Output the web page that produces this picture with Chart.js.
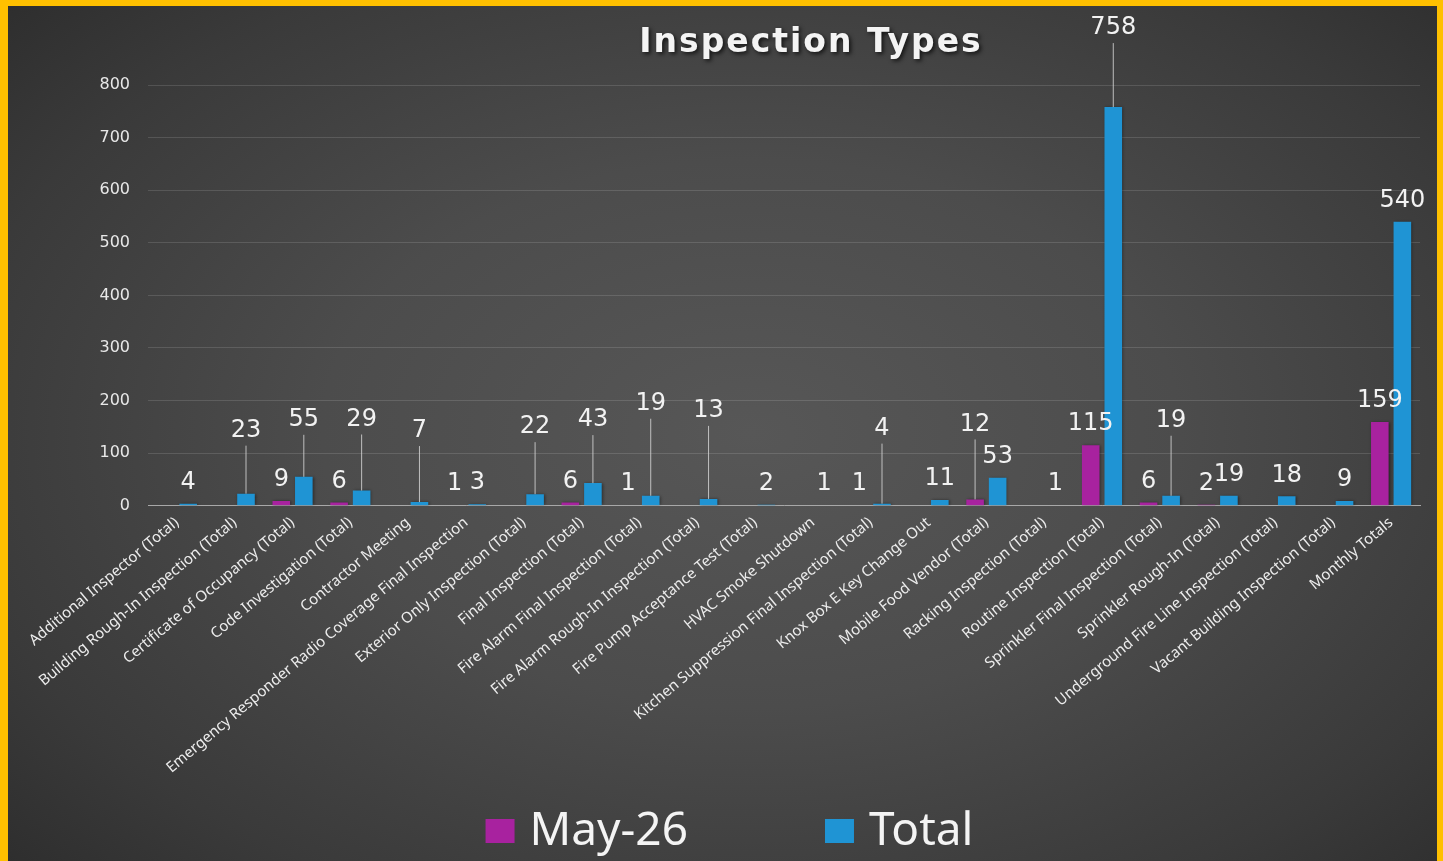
<!DOCTYPE html>
<html>
<head>
<meta charset="utf-8">
<script src="https://cdn.jsdelivr.net/npm/chart.js@4.4.1/dist/chart.umd.min.js"></script>
<style>
  html, body { margin:0; padding:0; background:#FFC000; width:1443px; height:861px; overflow:hidden; }
  #wrap { position:absolute; left:8px; top:6px; width:1429px; height:855px;
    background: radial-gradient(ellipse 75% 80% at 52% 50%, #575757 0%, #4c4c4c 40%, #3a3a3a 75%, #2a2a2a 100%); }
  canvas { display:block; }
</style>
</head>
<body>
<div id="wrap"><canvas id="c"></canvas></div>
<script>
const chartTitle = "Inspection Types";
const categories = [
  "Additional Inspector (Total)",
  "Building Rough-In Inspection (Total)",
  "Certificate of Occupancy (Total)",
  "Code Investigation (Total)",
  "Contractor Meeting",
  "Emergency Responder Radio Coverage Final Inspection",
  "Exterior Only Inspection (Total)",
  "Final Inspection (Total)",
  "Fire Alarm Final Inspection (Total)",
  "Fire Alarm Rough-In Inspection (Total)",
  "Fire Pump Acceptance Test (Total)",
  "HVAC Smoke Shutdown",
  "Kitchen Suppression Final Inspection (Total)",
  "Knox Box E Key Change Out",
  "Mobile Food Vendor (Total)",
  "Racking Inspection (Total)",
  "Routine Inspection (Total)",
  "Sprinkler Final Inspection (Total)",
  "Sprinkler Rough-In (Total)",
  "Underground Fire Line Inspection (Total)",
  "Vacant Building Inspection (Total)",
  "Monthly Totals"
];
const seriesNames = ["May-26", "Total"];
const may26 = [null, null, 9, 6, null, 1, null, 6, 1, null, null, null, 1, null, 12, null, 115, 6, 2, null, null, 159];
const total = [4, 23, 55, 29, 7, 3, 22, 43, 19, 13, 2, 1, 4, 11, 53, 1, 758, 19, 19, 18, 9, 540];
const yTicks = [0, 100, 200, 300, 400, 500, 600, 700, 800];

// label callout lifts (px above bar top) where a leader line is drawn
const mayLabelLift   = [null,null,null,null,null,null,null,null,null,null,null,null,null,null,75,null,null,null,null,null,null,null];
const totalLabelLift = [null,63,57,71,71,null,67,63,92,88,null,null,75,null,null,null,79,75,null,null,null,null];

const colors = ["#A8229F", "#1F94D4"];

const titlePlugin = {
  id: 'customTitle',
  afterDraw(chart) {
    const ctx = chart.ctx, a = chart.chartArea;
    ctx.save();
    ctx.font = 'bold 33px "DejaVu Sans"';
    try { ctx.letterSpacing = '2px'; } catch(e) {}
    ctx.textAlign = 'center';
    ctx.textBaseline = 'middle';
    ctx.shadowColor = 'rgba(0,0,0,0.7)';
    ctx.shadowBlur = 4; ctx.shadowOffsetX = 2; ctx.shadowOffsetY = 2;
    ctx.fillStyle = '#f4f4f4';
    ctx.fillText(chartTitle, (a.left + a.right) / 2 + 27, 37);
    ctx.restore();
  }
};

const legendPlugin = {
  id: 'customLegend',
  afterDraw(chart) {
    const ctx = chart.ctx;
    ctx.save();
    ctx.font = '46px "Noto Sans"';
    ctx.textBaseline = 'middle';
    const boxW = 29, boxH = 24, gapBT = 15, gapItem = 137;
    const w = seriesNames.map(s => ctx.measureText(s).width);
    const totalW = boxW + gapBT + w[0] + gapItem + boxW + gapBT + w[1];
    let x = chart.width / 2 + 7 - totalW / 2;
    const yc = chart.height - 30;
    seriesNames.forEach((s, i) => {
      ctx.fillStyle = colors[i];
      ctx.fillRect(x, yc - boxH / 2, boxW, boxH);
      x += boxW + gapBT;
      ctx.fillStyle = '#f4f4f4';
      ctx.fillText(s, x, yc + 1);
      x += w[i] + gapItem;
    });
    ctx.restore();
  }
};

const valueLabelPlugin = {
  id: 'valueLabels',
  afterDatasetsDraw(chart) {
    const ctx = chart.ctx;
    ctx.save();
    ctx.font = '24px "DejaVu Sans"';
    ctx.textAlign = 'center';
    ctx.textBaseline = 'middle';
    chart.data.datasets.forEach((ds, di) => {
      const meta = chart.getDatasetMeta(di);
      const lifts = di === 0 ? mayLabelLift : totalLabelLift;
      meta.data.forEach((bar, i) => {
        const v = ds.data[i];
        if (v == null || v === 0) return;
        const lift = lifts[i] != null ? lifts[i] : 21;
        const ly = bar.y - lift;
        if (lifts[i] != null) {
          ctx.strokeStyle = 'rgba(220,220,220,0.8)';
          ctx.lineWidth = 1;
          ctx.beginPath();
          ctx.moveTo(bar.x, ly + 15);
          ctx.lineTo(bar.x, bar.y);
          ctx.stroke();
        }
        ctx.fillStyle = '#f2f2f2';
        ctx.fillText(String(v), bar.x, ly);
      });
    });
    ctx.restore();
  }
};

const shadowPlugin = {
  id: 'barShadow',
  beforeDatasetsDraw(chart) {
    const ctx = chart.ctx;
    ctx.save();
    ctx.shadowColor = 'rgba(0,0,0,0.45)';
    ctx.shadowBlur = 3;
    ctx.shadowOffsetX = 1;
  },
  afterDatasetsDraw(chart) { chart.ctx.restore(); }
};

new Chart(document.getElementById('c'), {
  type: 'bar',
  data: {
    labels: categories,
    datasets: [
      { label: seriesNames[0], data: may26, backgroundColor: colors[0], categoryPercentage: 0.78, barPercentage: 0.78 },
      { label: seriesNames[1], data: total, backgroundColor: colors[1], categoryPercentage: 0.78, barPercentage: 0.78 }
    ]
  },
  options: {
    responsive: true,
    maintainAspectRatio: false,
    animation: false,
    layout: { padding: { top: 79, right: 17, bottom: 84, left: 0 } },
    plugins: {
      legend: { display: false },
      title: { display: false },
      tooltip: { enabled: false }
    },
    scales: {
      x: {
        grid: { display: false },
        border: { display: true, color: '#a8a8a8', width: 1 },
        ticks: {
          autoSkip: false, minRotation: 40, maxRotation: 40,
          color: '#ececec', font: { family: '"Noto Sans"', size: 15 }, padding: 0
        }
      },
      y: {
        min: 0, max: 800,
        afterBuildTicks(scale) { scale.ticks = yTicks.map(v => ({ value: v })); },
        afterFit(scale) { scale.width = 140; },
        grid: { color: 'rgba(255,255,255,0.13)', lineWidth: 1, drawTicks: false },
        border: { display: false },
        ticks: { color: '#e8e8e8', font: { family: '"DejaVu Sans"', size: 16 }, padding: 18 }
      }
    }
  },
  plugins: [shadowPlugin, valueLabelPlugin, titlePlugin, legendPlugin]
});
</script>
</body>
</html>
